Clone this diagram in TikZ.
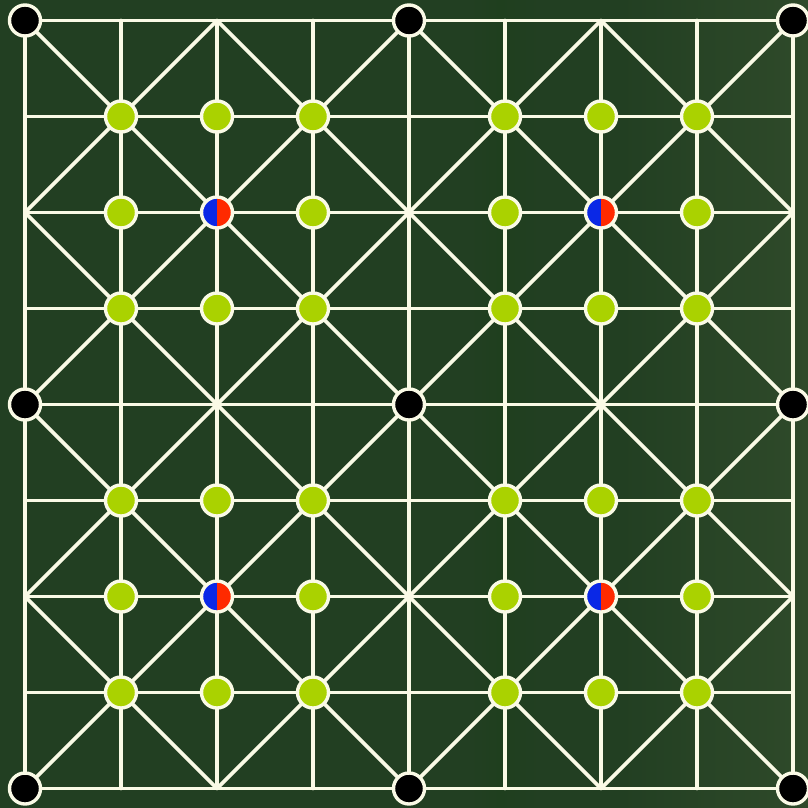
\documentclass[tikz,border=0pt]{standalone}
\begin{document}
\begin{tikzpicture}[x=1pt,y=-1pt,
  gridline/.style={draw=linec,line width=3.6pt,line cap=round},
  pt/.style={circle,draw=linec,line width=3.4pt,minimum size=31pt,inner sep=0pt},
  greenpt/.style={pt,fill=ptgreen},
  blackpt/.style={pt,fill=black},
  halfpt/.style={pt,path picture={
     \fill[ptblue] (path picture bounding box.south west) rectangle (path picture bounding box.north);
     \fill[ptred] (path picture bounding box.south) rectangle (path picture bounding box.north east);}}]
\definecolor{bg}{HTML}{223F22}
\definecolor{bgs}{HTML}{1F3F1E}
\definecolor{bgr}{HTML}{2F4A2A}
\definecolor{linec}{HTML}{FAFAE6}
\definecolor{ptgreen}{HTML}{AAD200}
\definecolor{ptblue}{HTML}{0A28E6}
\definecolor{ptred}{HTML}{FF2A00}
\useasboundingbox (0,0) rectangle (808,807);
\fill[bg] (-2,-2) rectangle (810,809);
\shade[left color=bg,right color=bgs] (470,-2) rectangle (500,809);
\shade[left color=bgs,right color=bg] (500,-2) rectangle (540,809);
\shade[left color=bg,right color=bgr] (620,-2) rectangle (810,809);
% grid coordinates
\foreach \i in {0,...,8}{
  \foreach \j in {0,...,8}{
    \coordinate (c-\i-\j) at ({25+96*\i},{20.5+96*\j});
  }
}
% straight lines
\foreach \k in {0,...,8}{
  \draw[gridline] (c-0-\k) -- (c-8-\k);
  \draw[gridline] (c-\k-0) -- (c-\k-8);
}
% diagonals in each quadrant
\foreach \qx/\qy in {0/0, 4/0, 0/4, 4/4}{
  \pgfmathtruncatemacro{\ex}{\qx+4}
  \pgfmathtruncatemacro{\ey}{\qy+4}
  \pgfmathtruncatemacro{\mx}{\qx+2}
  \pgfmathtruncatemacro{\my}{\qy+2}
  \draw[gridline] (c-\qx-\qy) -- (c-\ex-\ey);
  \draw[gridline] (c-\ex-\qy) -- (c-\qx-\ey);
  \draw[gridline,line join=round] (c-\mx-\qy) -- (c-\qx-\my) -- (c-\mx-\ey) -- (c-\ex-\my) -- cycle;
}
% black points
\foreach \i in {0,4,8}{
  \foreach \j in {0,4,8}{
    \node[blackpt] (b-\i-\j) at (c-\i-\j) {};
  }
}
% green and half points
\foreach \qx in {0,4}{
  \foreach \qy in {0,4}{
    \foreach \di in {1,2,3}{
      \foreach \dj in {1,2,3}{
        \pgfmathtruncatemacro{\ii}{\qx+\di}
        \pgfmathtruncatemacro{\jj}{\qy+\dj}
        \ifnum\di=2 \ifnum\dj=2
          \node[halfpt] (h-\ii-\jj) at (c-\ii-\jj) {};
        \else
          \node[greenpt] (g-\ii-\jj) at (c-\ii-\jj) {};
        \fi
        \else
          \node[greenpt] (g-\ii-\jj) at (c-\ii-\jj) {};
        \fi
      }
    }
  }
}
\end{tikzpicture}
\end{document}
